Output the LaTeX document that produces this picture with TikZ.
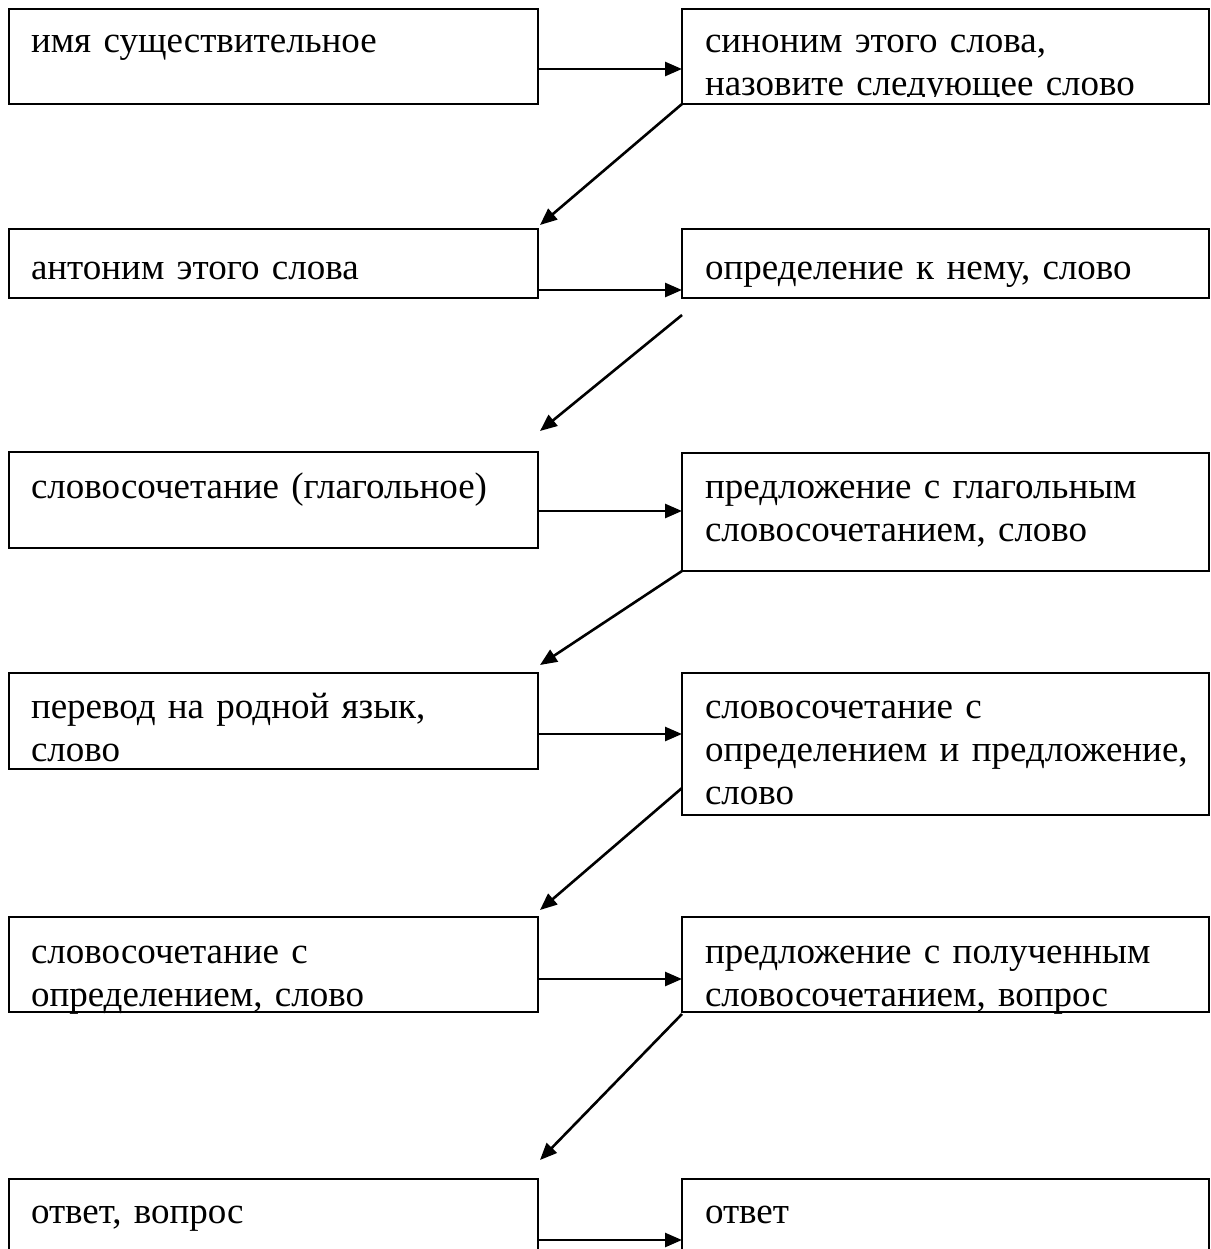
\documentclass[tikz,border=0pt]{standalone}
\usepackage{fontspec}
\setmainfont{Liberation Serif}
\usetikzlibrary{arrows.meta}
\tikzset{
  box/.style={draw, line width=2pt, rectangle, anchor=north west, inner sep=0pt, outer sep=0pt},
  txt/.style={anchor=base west, inner sep=0pt, outer sep=0pt, text width=520pt, align=left,
              font=\fontsize{37pt}{43pt}\selectfont},
  arr/.style={line width=2.6pt, -{Triangle[length=17pt,width=14pt]}}
}
\begin{document}
\begin{tikzpicture}[x=1pt,y=-1pt]
\useasboundingbox (0,0) rectangle (1210,1249);
\fill[white] (0,0) rectangle (1210,1249);
% boxes
\node[box, minimum width=529pt, minimum height=95pt]  (a1) at (9,9) {};
\node[box, minimum width=527pt, minimum height=95pt]  (b1) at (682,9) {};
\node[box, minimum width=529pt, minimum height=69pt]  (a2) at (9,229) {};
\node[box, minimum width=527pt, minimum height=69pt]  (b2) at (682,229) {};
\node[box, minimum width=529pt, minimum height=96pt]  (a3) at (9,452) {};
\node[box, minimum width=527pt, minimum height=118pt] (b3) at (682,453) {};
\node[box, minimum width=529pt, minimum height=96pt]  (a4) at (9,673) {};
\node[box, minimum width=527pt, minimum height=142pt] (b4) at (682,673) {};
\node[box, minimum width=529pt, minimum height=95pt]  (a5) at (9,917) {};
\node[box, minimum width=527pt, minimum height=95pt]  (b5) at (682,917) {};
\node[box, minimum width=529pt, minimum height=90pt]  (a6) at (9,1179) {};
\node[box, minimum width=527pt, minimum height=90pt]  (b6) at (682,1179) {};
% texts
\node[txt] (ta1) at ([xshift=22pt,yshift=-44pt]a1.north west) {имя существительное};
\begin{scope}
\clip (b1.north west) rectangle ([yshift=7pt]b1.south east);
\node[txt] (tb1) at ([xshift=23pt,yshift=-44pt]b1.north west) {синоним этого слова,\\назовите следующее слово};
\end{scope}
\node[txt] (ta2) at ([xshift=22pt,yshift=-50pt]a2.north west) {антоним этого слова};
\node[txt] (tb2) at ([xshift=23pt,yshift=-50pt]b2.north west) {определение к нему, слово};
\node[txt] (ta3) at ([xshift=22pt,yshift=-46pt]a3.north west) {словосочетание (глагольное)};
\node[txt] (tb3) at ([xshift=23pt,yshift=-45pt]b3.north west) {предложение с глагольным\\словосочетанием, слово};
\node[txt] (ta4) at ([xshift=22pt,yshift=-45pt]a4.north west) {перевод на родной язык,\\слово};
\node[txt] (tb4) at ([xshift=23pt,yshift=-45pt]b4.north west) {словосочетание с\\определением и предложение,\\слово};
\node[txt] (ta5) at ([xshift=22pt,yshift=-46pt]a5.north west) {словосочетание с\\определением, слово};
\node[txt] (tb5) at ([xshift=23pt,yshift=-46pt]b5.north west) {предложение с полученным\\словосочетанием, вопрос};
\node[txt] (ta6) at ([xshift=22pt,yshift=-44pt]a6.north west) {ответ, вопрос};
\node[txt] (tb6) at ([xshift=23pt,yshift=-44pt]b6.north west) {ответ};
% horizontal arrows
\draw[arr] ([yshift=-60pt]a1.north east) -- ([yshift=-60pt]b1.north west);
\draw[arr] ([yshift=-61pt]a2.north east) -- ([yshift=-61pt]b2.north west);
\draw[arr] ([yshift=-59pt]a3.north east) -- ([yshift=-58pt]b3.north west);
\draw[arr] ([yshift=-61pt]a4.north east) -- ([yshift=-61pt]b4.north west);
\draw[arr] ([yshift=-62pt]a5.north east) -- ([yshift=-62pt]b5.north west);
\draw[arr] ([yshift=-61pt]a6.north east) -- ([yshift=-61pt]b6.north west);
% diagonal connectors
\coordinate (s2) at ([yshift=-17pt]b2.south west);
\coordinate (s4) at ([yshift=27pt]b4.south west);
\coordinate (s5) at ([yshift=-2pt]b5.south west);
\draw[arr] (b1.south west) -- ([xshift=2pt,yshift=4pt]a2.north east);
\draw[arr] (s2) -- ([xshift=2pt,yshift=21pt]a3.north east);
\draw[arr] (b3.south west) -- ([xshift=2pt,yshift=8pt]a4.north east);
\draw[arr] (s4) -- ([xshift=2pt,yshift=7pt]a5.north east);
\draw[arr] (s5) -- ([xshift=2pt,yshift=19pt]a6.north east);
\end{tikzpicture}
\end{document}
